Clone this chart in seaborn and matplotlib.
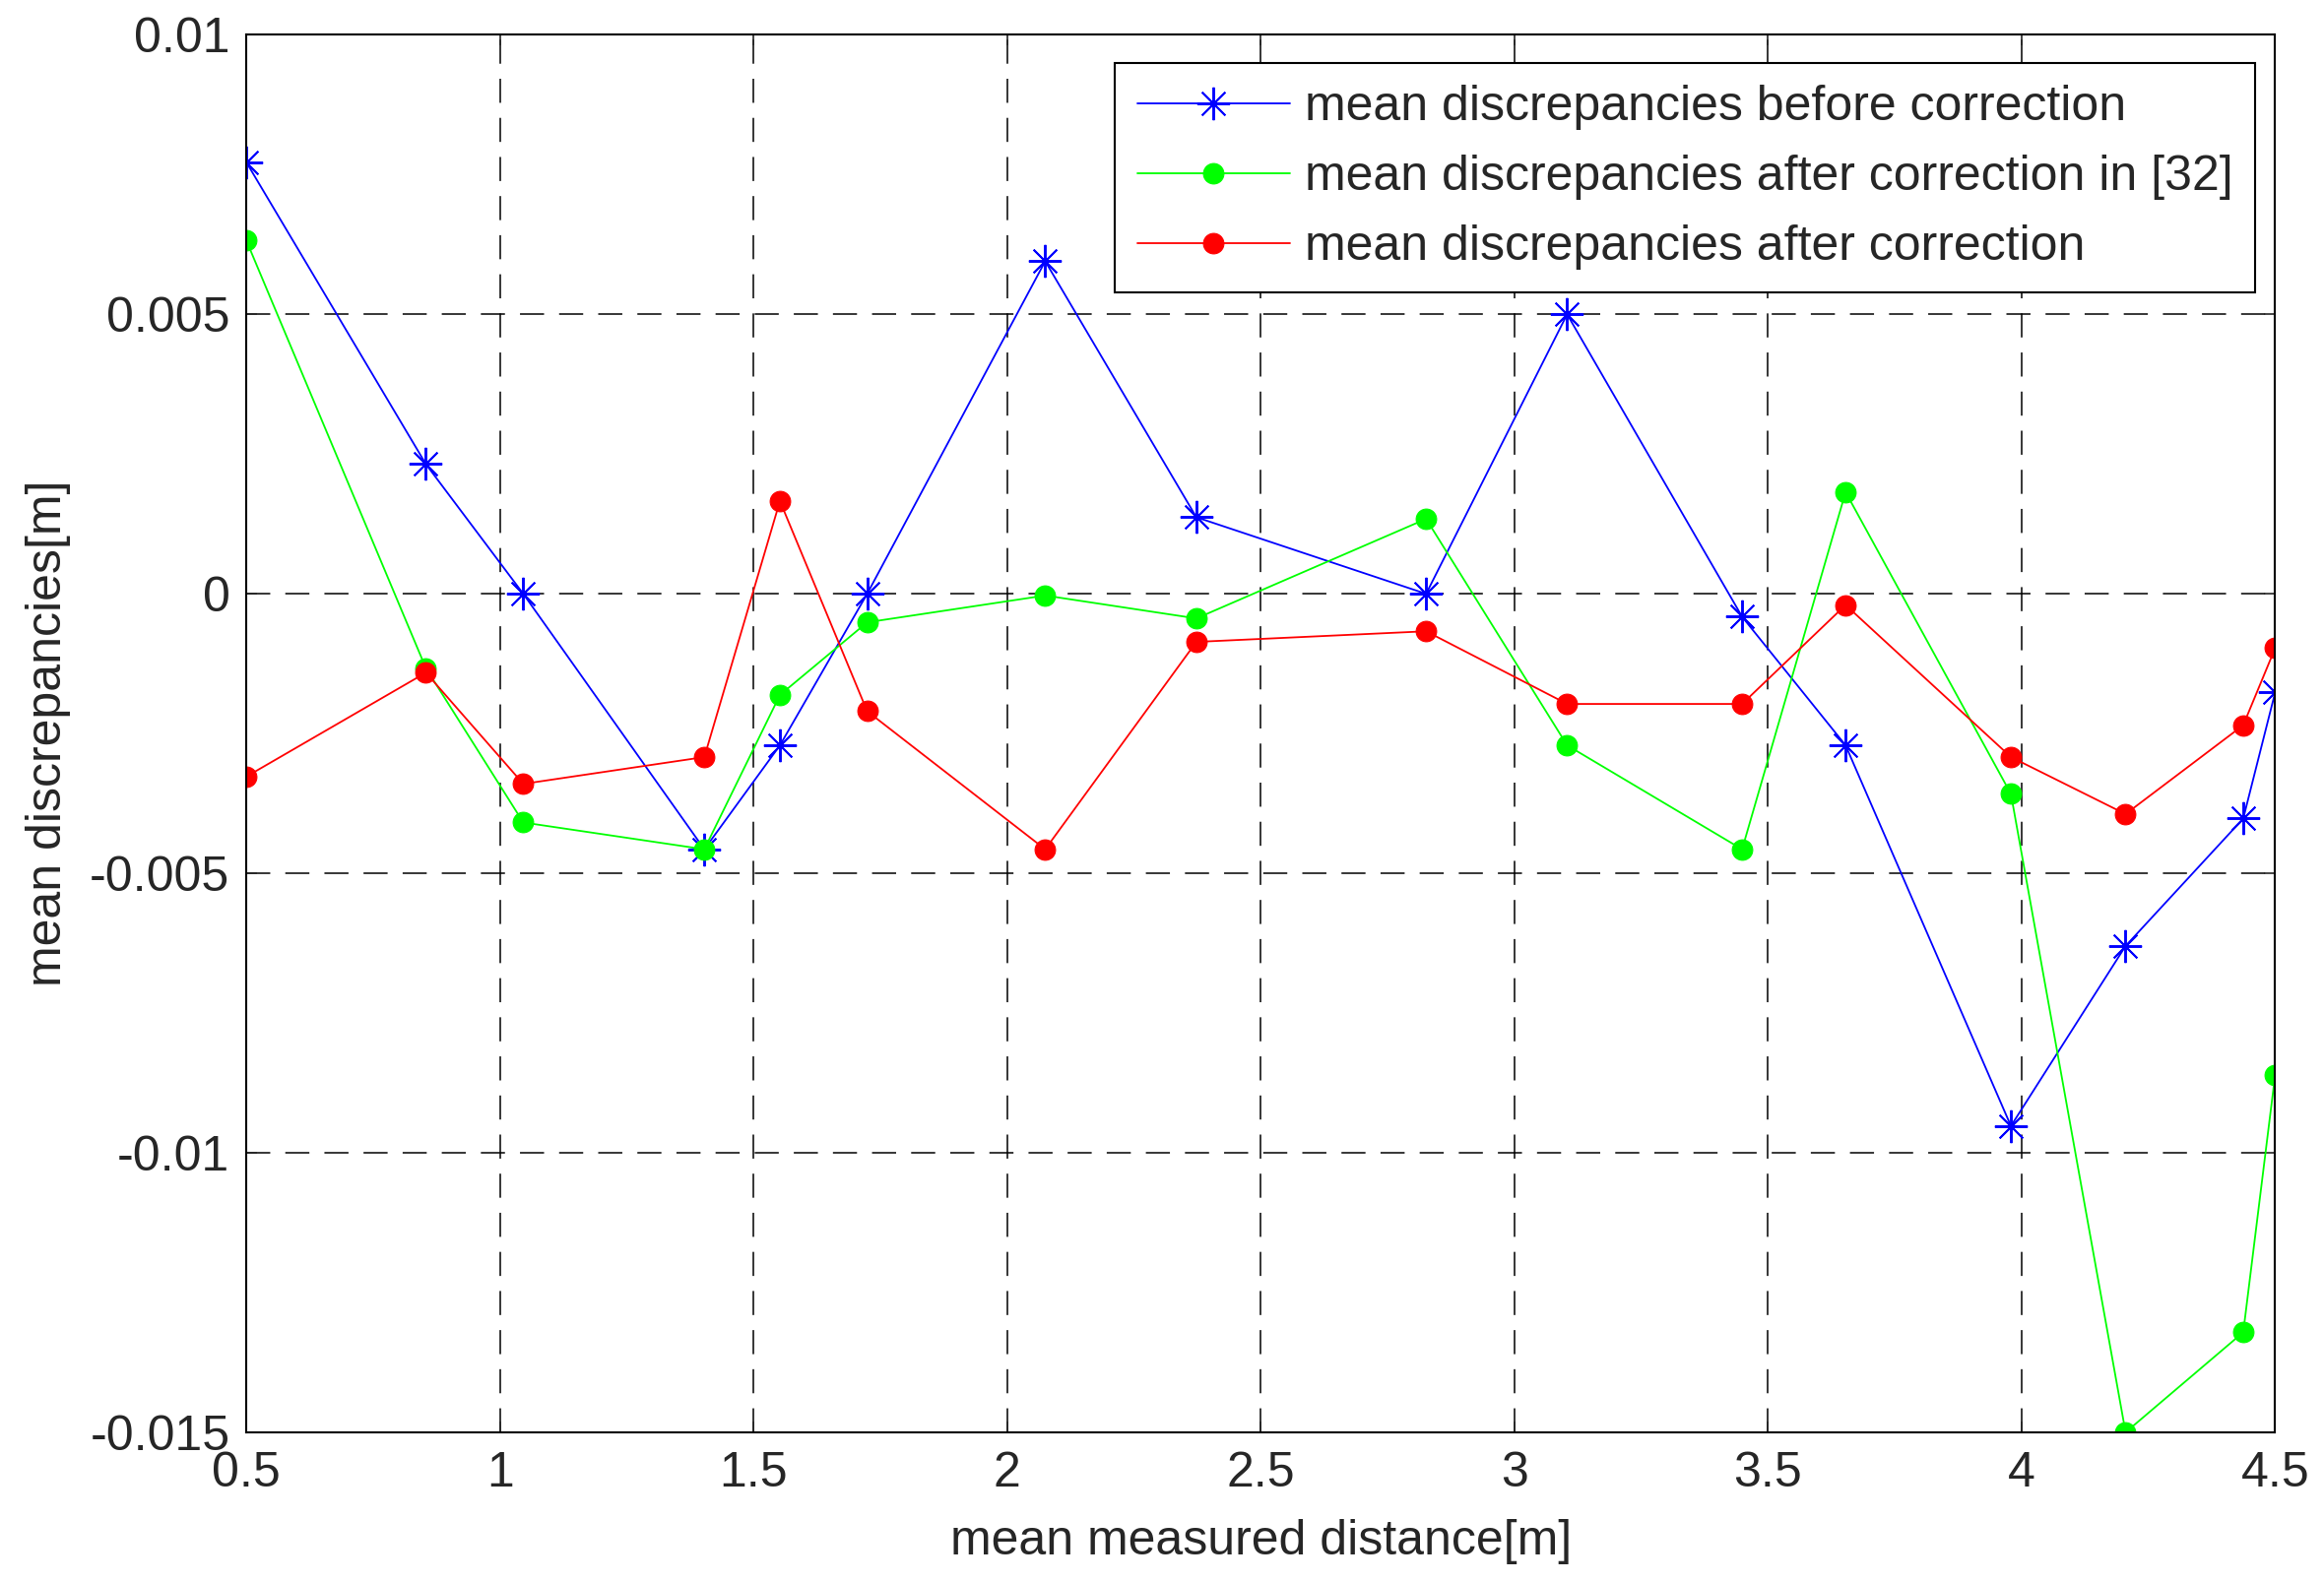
import numpy as np
import pandas as pd
import seaborn as sns
from matplotlib import pyplot as plt

# mean measured distance [m]
distance = [0.5, 0.854, 1.046, 1.403, 1.552, 1.724, 2.075, 2.373, 2.826,
            3.104, 3.449, 3.653, 3.979, 4.205, 4.437, 4.5]

# mean discrepancies [m]
before = [0.00772, 0.00232, 0.0, -0.00457, -0.00271, 0.0, 0.00595, 0.00137, 0.0,
          0.005, -0.00041, -0.00271, -0.00952, -0.0063, -0.00402, -0.00176]
after_32 = [0.00632, -0.00133, -0.00409, -0.00457, -0.00181, -0.00051, -0.00003, -0.00044, 0.00134,
            -0.00271, -0.00457, 0.00182, -0.00358, -0.015, -0.01321, -0.0086]
after = [-0.00327, -0.00141, -0.0034, -0.00292, 0.00166, -0.0021, -0.00457, -0.00086, -0.00067,
         -0.00197, -0.00197, -0.0002, -0.00292, -0.00394, -0.00235, -0.00097]

labels = ['mean discrepancies before correction',
          'mean discrepancies after correction in [32]',
          'mean discrepancies after correction']

FS = 36

sns.set_style('white')
plt.rcParams['font.family'] = ['Liberation Sans', 'DejaVu Sans']
plt.rcParams['font.size'] = FS

fig = plt.figure(figsize=(23.6, 16.07), dpi=100)
ax = fig.add_axes([0.106, 0.0946, 0.873, 0.8834])

df = pd.DataFrame({'x': distance, 'before': before, 'after_32': after_32, 'after': after})

sns.lineplot(data=df, x='x', y='before', ax=ax, sort=False, estimator=None,
             color='#0000ff', lw=1.3, marker=(8, 2, 0), markersize=24,
             markeredgecolor='#0000ff', markeredgewidth=1.4, label=labels[0])
sns.lineplot(data=df, x='x', y='after_32', ax=ax, sort=False, estimator=None,
             color='#00ff00', lw=1.3, marker='o', markersize=15,
             markeredgecolor='#00ff00', markerfacecolor='#00ff00', label=labels[1])
sns.lineplot(data=df, x='x', y='after', ax=ax, sort=False, estimator=None,
             color='#ff0000', lw=1.3, marker='o', markersize=15,
             markeredgecolor='#ff0000', markerfacecolor='#ff0000', label=labels[2])

ax.set_xlim(0.5, 4.5)
ax.set_ylim(-0.015, 0.01)
ax.set_xticks(np.arange(0.5, 4.51, 0.5))
ax.set_xticklabels(['0.5', '1', '1.5', '2', '2.5', '3', '3.5', '4', '4.5'])
ax.set_yticks([-0.015, -0.01, -0.005, 0, 0.005, 0.01])
ax.set_yticklabels(['-0.015', '-0.01', '-0.005', '0', '0.005', '0.01'])
ax.grid(True, color='black', linestyle=(0, (16, 10)), linewidth=1.1)
ax.set_axisbelow(True)
ax.tick_params(axis='x', pad=14)
ax.tick_params(axis='y', pad=12)
ax.tick_params(direction='in', length=8, width=1.2, labelsize=FS,
               top=True, right=True, bottom=True, left=True)
for s in ax.spines.values():
    s.set_color('black')
    s.set_linewidth(1.5)

ax.set_xlabel('mean measured distance[m]', fontsize=FS, labelpad=16)
ax.set_ylabel('mean discrepancies[m]', fontsize=FS, labelpad=14)

leg = ax.legend(loc='upper right', bbox_to_anchor=(0.990, 0.980), borderaxespad=0,
                fontsize=FS, handlelength=3.1, handletextpad=0.3, fancybox=False,
                framealpha=1, edgecolor='black', borderpad=0.45, labelspacing=0.5)
leg.get_frame().set_linewidth(1.5)

fig.savefig('out.png', dpi=100, facecolor='white')
